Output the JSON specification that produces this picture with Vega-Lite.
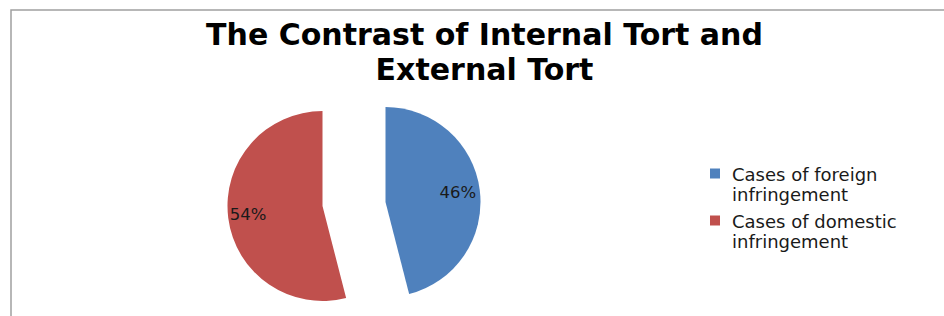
{
  "$schema": "https://vega.github.io/schema/vega-lite/v6.json",
  "width": 943,
  "height": 316,
  "autosize": {"type": "none"},
  "padding": {"left": 11, "top": 10, "right": -10, "bottom": -10},
  "background": "white",
  "view": {"stroke": "#a0a0a0", "strokeWidth": 1.5, "fill": "white"},
  "config": {
    "font": "DejaVu Sans"
  },
  "title": {
    "text": ["The Contrast of Internal Tort and", "External Tort"],
    "font": "DejaVu Sans",
    "fontWeight": "bold",
    "fontSize": 30,
    "lineHeight": 35,
    "color": "#000000",
    "anchor": "middle",
    "frame": "group",
    "orient": "top",
    "baseline": "alphabetic",
    "offset": 0,
    "dx": 2,
    "dy": 100
  },
  "data": {
    "values": [
      {"category": "Cases of foreign infringement", "share": 0.46},
      {"category": "Cases of domestic infringement", "share": 0.54}
    ]
  },
  "layer": [
    {
      "mark": {"type": "arc", "outerRadius": 95, "xOffset": -97, "yOffset": 34},
      "encoding": {
        "theta": {"field": "share", "type": "quantitative", "stack": true},
        "order": {"field": "category", "sort": "descending"},
        "color": {
          "field": "category",
          "type": "nominal",
          "scale": {
            "domain": ["Cases of foreign infringement", "Cases of domestic infringement"],
            "range": ["#4F81BD", "#C0504D"]
          },
          "legend": {
            "title": null,
            "orient": "none",
            "legendX": 695,
            "legendY": 148,
            "padding": 0,
            "symbolType": "M-1,0.3H1V2.3H-1Z",
            "symbolSize": 100,
            "symbolStrokeWidth": 0,
            "labelFont": "DejaVu Sans",
            "labelFontSize": 18,
            "labelColor": "#1a1a1a",
            "labelLimit": 300,
            "labelOffset": 8,
            "labelBaseline": "top",
            "labelExpr": "[replace(datum.label, ' infringement', ''), 'infringement']",
            "rowPadding": -3,
            "encode": {
              "labels": {"lineHeight": {"value": 17}}
            }
          }
        },
        "opacity": {"condition": {"test": "datum.category == 'Cases of foreign infringement'", "value": 1}, "value": 0}
      }
    },
    {
      "mark": {"type": "arc", "outerRadius": 95, "xOffset": -160, "yOffset": 38},
      "encoding": {
        "theta": {"field": "share", "type": "quantitative", "stack": true},
        "order": {"field": "category", "sort": "descending"},
        "color": {"field": "category", "type": "nominal"},
        "opacity": {"condition": {"test": "datum.category == 'Cases of domestic infringement'", "value": 1}, "value": 0}
      }
    },
    {
      "mark": {"type": "text", "radius": 73, "xOffset": -97, "yOffset": 34, "font": "DejaVu Sans", "fontSize": 16.5, "color": "#1a1a1a"},
      "encoding": {
        "theta": {"field": "share", "type": "quantitative", "stack": true},
        "order": {"field": "category", "sort": "descending"},
        "text": {"field": "share", "type": "quantitative", "format": ".0%"},
        "opacity": {"condition": {"test": "datum.category == 'Cases of foreign infringement'", "value": 1}, "value": 0}
      }
    },
    {
      "mark": {"type": "text", "radius": 75, "xOffset": -160, "yOffset": 38, "font": "DejaVu Sans", "fontSize": 16.5, "color": "#1a1a1a"},
      "encoding": {
        "theta": {"field": "share", "type": "quantitative", "stack": true},
        "order": {"field": "category", "sort": "descending"},
        "text": {"field": "share", "type": "quantitative", "format": ".0%"},
        "opacity": {"condition": {"test": "datum.category == 'Cases of domestic infringement'", "value": 1}, "value": 0}
      }
    }
  ]
}
